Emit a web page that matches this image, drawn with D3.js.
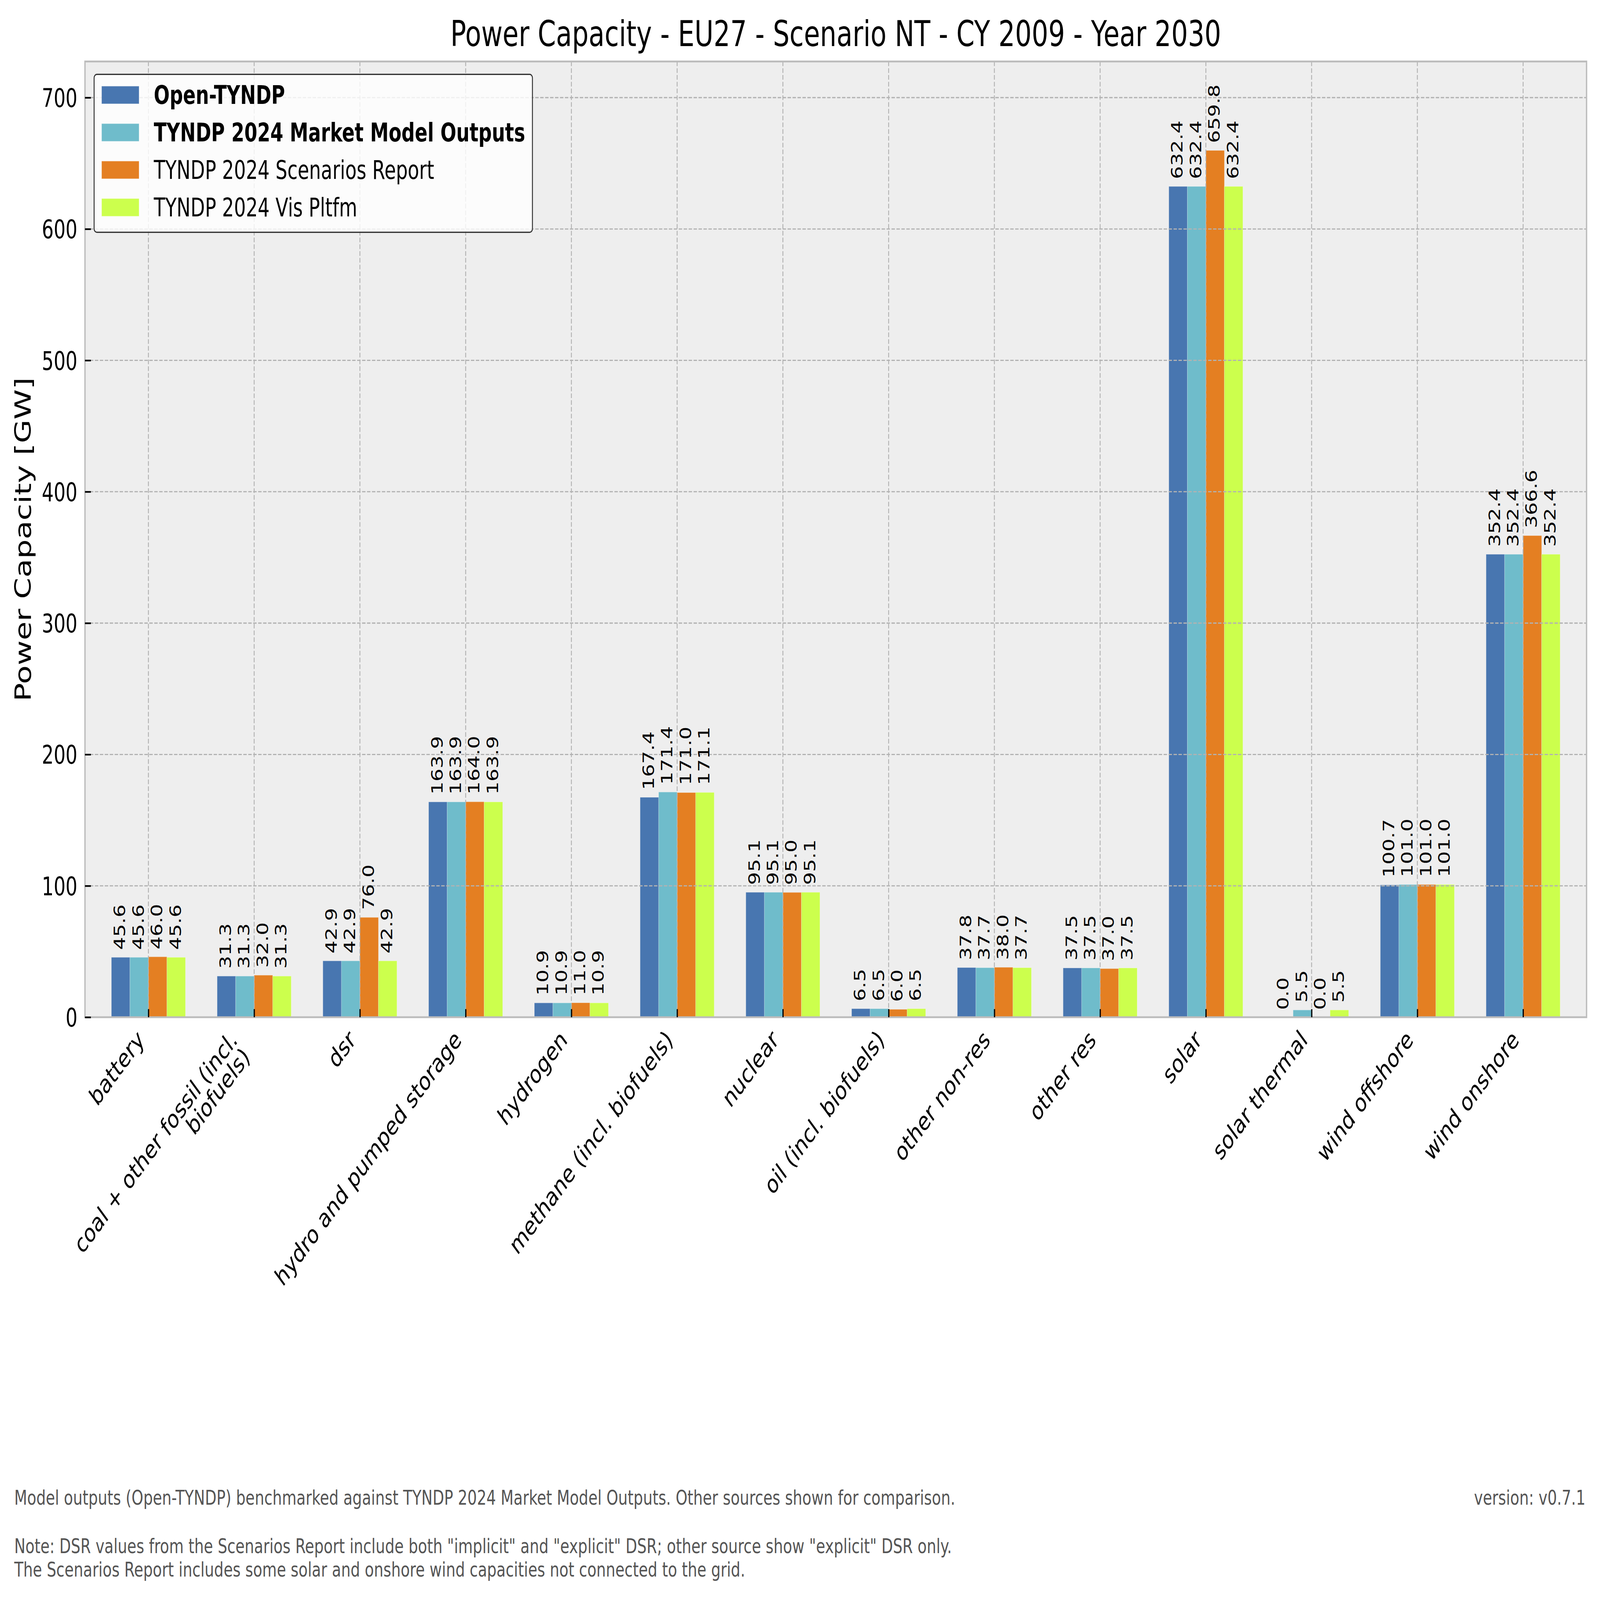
<!DOCTYPE html>
<html><head><meta charset="utf-8">
<script src="https://cdn.jsdelivr.net/npm/d3@7"></script>
<style>html,body{margin:0;padding:0;width:100%;height:100%;overflow:hidden;background:#fff}svg{display:block;width:100vw;height:100vh}text{font-family:"DejaVu Sans",sans-serif}</style>
</head><body><svg id="c"></svg>
<script>
// ---- data ----
const categories = ["battery","coal + other fossil (incl.\nbiofuels)","dsr","hydro and pumped storage","hydrogen","methane (incl. biofuels)","nuclear","oil (incl. biofuels)","other non-res","other res","solar","solar thermal","wind offshore","wind onshore"];
const seriesNames = ["Open-TYNDP","TYNDP 2024 Market Model Outputs","TYNDP 2024 Scenarios Report","TYNDP 2024 Vis Pltfm"];
const openTyndp       = [45.6,31.3,42.9,163.9,10.9,167.4,95.1,6.5,37.8,37.5,632.4,0.0,100.7,352.4];
const marketModel     = [45.6,31.3,42.9,163.9,10.9,171.4,95.1,6.5,37.7,37.5,632.4,5.5,101.0,352.4];
const scenariosReport = [46.0,32.0,76.0,164.0,11.0,171.0,95.0,6.0,38.0,37.0,659.8,0.0,101.0,366.6];
const visPltfm        = [45.6,31.3,42.9,163.9,10.9,171.1,95.1,6.5,37.7,37.5,632.4,5.5,101.0,352.4];
const boldSeries = [true,true,false,false];
const yTicks = [0,100,200,300,400,500,600,700];
const titleText = "Power Capacity - EU27 - Scenario NT - CY 2009 - Year 2030";
const yLabelText = "Power Capacity [GW]";
const footerLeft = ["Model outputs (Open-TYNDP) benchmarked against TYNDP 2024 Market Model Outputs. Other sources shown for comparison."];
const footerNotes = ["Note: DSR values from the Scenarios Report include both \"implicit\" and \"explicit\" DSR; other source show \"explicit\" DSR only.","The Scenarios Report includes some solar and onshore wind capacities not connected to the grid."];
const versionText = "version: v0.7.1";

// ---- layout ----
const W = 5950, H = 4346;
const L = 316, R = 5900, T = 167, B = 2763;
const colors = ["#4876b0","#6fbccb","#e47f22","#ccff4d"];
const series = [openTyndp, marketModel, scenariosReport, visPltfm];
const fsTick = 69.4, fsBar = 55.6, fsTitle = 97.2, fsYLabel = 83.3, fsFoot = 55.6;
const barW = 0.175;

const svg = d3.select("#c").attr("viewBox", `0 0 ${W} ${H}`).attr("preserveAspectRatio", "none");
svg.append("rect").attr("width", W).attr("height", H).attr("fill", "#fff");

const x = d3.scaleLinear().domain([-0.6, 13.6]).range([L, R]);
const y = d3.scaleLinear().domain([0, 727.5]).range([B, T]);

// plot background
svg.append("rect").attr("x", L).attr("y", T).attr("width", R - L).attr("height", B - T).attr("fill", "#eeeeee");

// bars
const flat = [];
series.forEach((s, si) => s.forEach((v, ci) => flat.push({si, ci, v})));
svg.append("g").selectAll("rect").data(flat).join("rect")
  .attr("x", d => x(d.ci + (d.si - 2) * barW))
  .attr("width", d => x(barW) - x(0))
  .attr("y", d => y(d.v))
  .attr("height", d => y(0) - y(d.v))
  .attr("fill", d => colors[d.si])
  .attr("stroke", "rgba(255,255,255,0.25)").attr("stroke-width", 2);

// grid (drawn above bars)
const grid = svg.append("g").attr("stroke", "#b2b2b2").attr("stroke-width", 3.3).attr("stroke-dasharray", "12.7,5.7").attr("fill", "none");
grid.selectAll(".gx").data(d3.range(categories.length)).join("line")
  .attr("x1", d => x(d)).attr("x2", d => x(d)).attr("y1", T).attr("y2", B);
grid.selectAll(".gy").data(yTicks).join("line")
  .attr("x1", L).attr("x2", R).attr("y1", d => y(d)).attr("y2", d => y(d));

// value labels
svg.append("g").selectAll("text").data(flat).join("text")
  .attr("transform", d => `translate(${x(d.ci + (d.si - 1.5) * barW) + 0.3 * fsBar},${y(d.v) - 20}) rotate(-90)`)
  .attr("font-size", fsBar).attr("fill", "#000")
  .text(d => d.v.toFixed(1));

// spines
svg.append("rect").attr("x", L).attr("y", T).attr("width", R - L).attr("height", B - T)
  .attr("fill", "none").attr("stroke", "#bcbcbc").attr("stroke-width", 5);

// y axis (ticks inside)
const yAxis = svg.append("g").attr("transform", `translate(${L},0)`)
  .call(d3.axisLeft(y).tickValues(yTicks).tickSize(-22).tickPadding(28).tickFormat(d3.format("d")));
yAxis.select(".domain").remove();
yAxis.selectAll(".tick line").attr("stroke", "#000").attr("stroke-width", 4.5);
yAxis.selectAll(".tick text").attr("font-size", fsTick).attr("font-family", "DejaVu Sans").attr("fill", "#000").attr("dy", "0.36em");

// x axis ticks (inside)
const xAxis = svg.append("g").attr("transform", `translate(0,${B})`)
  .call(d3.axisBottom(x).tickValues(d3.range(categories.length)).tickSize(-22).tickFormat(""));
xAxis.select(".domain").remove();
xAxis.selectAll(".tick line").attr("stroke", "#000").attr("stroke-width", 4.5);

// x tick labels rotated 45, right-aligned (matplotlib style)
const lineH = 0.95 * fsTick, pad = 20;
const xl = svg.append("g");
categories.forEach((c, i) => {
  const lines = c.split("\n");
  const px = x(i) - 0.707 * (0.236 * fsTick) - 0.707 * lineH * (lines.length - 1);
  const py = B + pad + 0.707 * 0.928 * fsTick;
  const t = xl.append("text").attr("transform", `translate(${px},${py}) rotate(-45)`)
    .attr("text-anchor", "end").attr("font-size", fsTick).attr("fill", "#000");
  lines.forEach((ln, k) => t.append("tspan").attr("x", 0).attr("y", k * lineH).text(ln));
});

// title
svg.append("text").attr("x", (L + R) / 2).attr("y", 125).attr("text-anchor", "middle")
  .attr("font-size", fsTitle).attr("fill", "#000").text(titleText);

// y label
svg.append("text").attr("transform", `translate(115,${(T + B) / 2}) rotate(-90)`)
  .attr("text-anchor", "middle").attr("font-size", fsYLabel).attr("fill", "#000").text(yLabelText);

// legend
const lg = svg.append("g");
lg.append("rect").attr("x", 350).attr("y", 202).attr("width", 1630).attr("height", 429).attr("rx", 10)
  .attr("fill", "#ffffff").attr("fill-opacity", 0.8).attr("stroke", "#333").attr("stroke-width", 3.5);
seriesNames.forEach((n, i) => {
  const cy = 258 + i * 101.8;
  lg.append("rect").attr("x", 378).attr("y", cy - 24).attr("width", 139).attr("height", 48)
    .attr("fill", colors[i]).attr("stroke", "rgba(255,255,255,0.25)").attr("stroke-width", 2);
  lg.append("text").attr("x", 572).attr("y", cy + 24).attr("font-size", fsTick)
    .attr("font-weight", boldSeries[i] ? "bold" : "normal").attr("fill", "#000").text(n);
});

// footer
const ft = svg.append("g").attr("font-size", fsFoot).attr("fill", "#555");
footerLeft.forEach((s, k) => ft.append("text").attr("x", 53).attr("y", 4087 + k * 63).text(s));
footerNotes.forEach((s, k) => ft.append("text").attr("x", 53).attr("y", 4219 + k * 63).text(s));
ft.append("text").attr("x", 5896).attr("y", 4087).attr("text-anchor", "end").text(versionText);
</script></body></html>
